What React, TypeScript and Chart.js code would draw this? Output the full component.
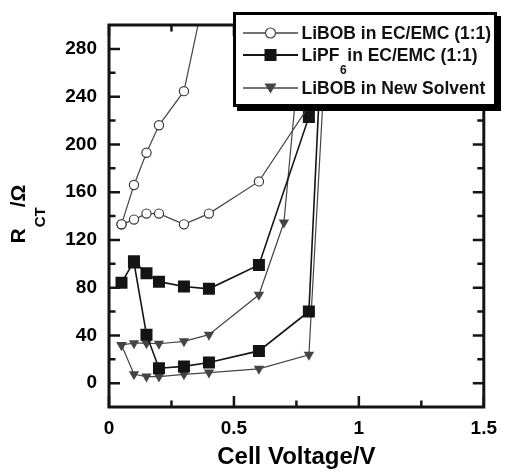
import { useEffect, useRef } from 'react';
import { Chart, registerables } from 'chart.js';

Chart.register(...registerables);

// ---- data (cell voltage / V, charge-transfer resistance / Ω) ----
const libobEcV = [0.05, 0.1, 0.15, 0.2, 0.3, 0.4, 0.6, 0.8, 0.85, 0.4, 0.3, 0.2, 0.15, 0.1, 0.05];
const libobEcR = [133, 137, 142, 142, 133, 142, 169, 232, 420, 343, 244.6, 216, 193, 166, 133];

const lipf6V = [0.05, 0.1, 0.15, 0.2, 0.3, 0.4, 0.6, 0.8, 0.85, 0.8, 0.6, 0.4, 0.3, 0.2, 0.15, 0.1];
const lipf6R = [84, 102, 92, 85, 81, 79, 99, 223, 280, 60, 27, 17.3, 14, 12.5, 40.6, 101];

const libobNsV = [0.05, 0.1, 0.15, 0.2, 0.3, 0.4, 0.6, 0.7, 0.8, 0.88, 0.8, 0.6, 0.4, 0.3, 0.2, 0.15, 0.1, 0.05];
const libobNsR = [32, 33.5, 33.5, 33, 35, 40.6, 74, 134.5, 360, 327, 23.7, 12, 8.8, 7.4, 5.5, 5.5, 7.4, 32];

const xTicks = [0, 0.5, 1, 1.5];
const xMinorTicks = [0.25, 0.75, 1.25];
const yTicks = [0, 40, 80, 120, 160, 200, 240, 280];
const yMinorTicks = [20, 60, 100, 140, 180, 220, 260];

const FONT = '"Liberation Sans", Arial, Helvetica, sans-serif';
const GREY = '#444444';
const BLACK = '#141414';

const toXY = (xs: number[], ys: number[]) => xs.map((x, i) => ({ x, y: ys[i] }));

const framePlugin = {
  id: 'frameTicks',
  afterDatasetsDraw(chart: any) {
    const { ctx, chartArea, scales } = chart;
    const { left, right, top, bottom } = chartArea;
    const x = scales.x;
    const y = scales.y;
    ctx.save();
    ctx.strokeStyle = BLACK;
    ctx.lineWidth = 2.5;
    const major = 11;
    const minor = 6.5;
    const vt = (v: number, len: number) => {
      const px = x.getPixelForValue(v);
      ctx.beginPath();
      ctx.moveTo(px, bottom);
      ctx.lineTo(px, bottom - len);
      ctx.moveTo(px, top);
      ctx.lineTo(px, top + len);
      ctx.stroke();
    };
    const ht = (v: number, len: number) => {
      const py = y.getPixelForValue(v);
      ctx.beginPath();
      ctx.moveTo(left, py);
      ctx.lineTo(left + len, py);
      ctx.moveTo(right, py);
      ctx.lineTo(right - len, py);
      ctx.stroke();
    };
    xTicks.forEach((v) => vt(v, major));
    xMinorTicks.forEach((v) => vt(v, minor));
    yTicks.forEach((v) => ht(v, major));
    yMinorTicks.forEach((v) => ht(v, minor));
    ctx.lineWidth = 3;
    ctx.strokeRect(left, top, right - left, bottom - top);
    ctx.restore();
  },
};

const overlayPlugin = {
  id: 'overlay',
  afterDraw(chart: any) {
    const { ctx, chartArea } = chart;
    ctx.save();

    // ---- y-axis title: R_CT /Ω (rotated) ----
    const cy = (chartArea.top + chartArea.bottom) / 2 - 2;
    ctx.translate(25, cy);
    ctx.rotate(-Math.PI / 2);
    ctx.fillStyle = '#000';
    ctx.textBaseline = 'alphabetic';
    ctx.textAlign = 'left';
    ctx.font = `bold 21px ${FONT}`;
    const rW = ctx.measureText('R').width;
    ctx.font = `bold 15px ${FONT}`;
    const ctW = ctx.measureText('CT').width;
    ctx.font = `bold 21px ${FONT}`;
    const omW = ctx.measureText('/Ω').width;
    const total = rW + 1 + ctW + 0 + omW;
    let u = -total / 2;
    ctx.fillText('R', u, 0);
    u += rW + 1;
    ctx.font = `bold 15px ${FONT}`;
    ctx.fillText('CT', u, 20);
    u += ctW;
    ctx.font = `bold 21px ${FONT}`;
    ctx.fillText('/Ω', u, 0);
    ctx.setTransform(1, 0, 0, 1, 0, 0);
    ctx.restore();

    // ---- legend box ----
    ctx.save();
    const L = 233, T = 12, W = 264, H = 95;
    ctx.fillStyle = '#000';
    ctx.fillRect(L + 4, T + 4, W, H);
    ctx.fillStyle = '#fff';
    ctx.fillRect(L, T, W, H);
    ctx.strokeStyle = '#000';
    ctx.lineWidth = 3;
    ctx.strokeRect(L + 1.5, T + 1.5, W - 3, H - 3);

    const lx1 = 243, lx2 = 298, mx = 270.5, tx = 301.5;
    const rows = [33, 55, 88];
    ctx.font = `bold 17.5px ${FONT}`;
    ctx.textBaseline = 'middle';
    ctx.textAlign = 'left';

    // row 1
    ctx.strokeStyle = GREY;
    ctx.lineWidth = 1.3;
    ctx.beginPath();
    ctx.moveTo(lx1, rows[0]);
    ctx.lineTo(lx2, rows[0]);
    ctx.stroke();
    ctx.beginPath();
    ctx.arc(mx, rows[0], 5, 0, Math.PI * 2);
    ctx.fillStyle = '#fff';
    ctx.fill();
    ctx.lineWidth = 1.2;
    ctx.stroke();
    ctx.fillStyle = '#111';
    ctx.fillText('LiBOB in EC/EMC (1:1)', tx, rows[0] + 1);

    // row 2
    ctx.strokeStyle = BLACK;
    ctx.lineWidth = 2;
    ctx.beginPath();
    ctx.moveTo(lx1, rows[1]);
    ctx.lineTo(lx2, rows[1]);
    ctx.stroke();
    ctx.fillStyle = BLACK;
    ctx.fillRect(mx - 6, rows[1] - 6, 12, 12);
    ctx.fillStyle = '#111';
    ctx.fillText('LiPF', tx, rows[1] + 1);
    const lipfW = ctx.measureText('LiPF').width;
    ctx.font = `bold 12px ${FONT}`;
    ctx.fillText('6', tx + lipfW + 0.5, rows[1] + 16);
    ctx.font = `bold 17.5px ${FONT}`;
    ctx.fillText(' in EC/EMC (1:1)', tx + lipfW + 3, rows[1] + 1);

    // row 3
    ctx.strokeStyle = GREY;
    ctx.lineWidth = 1.3;
    ctx.beginPath();
    ctx.moveTo(lx1, rows[2]);
    ctx.lineTo(lx2, rows[2]);
    ctx.stroke();
    ctx.fillStyle = GREY;
    ctx.beginPath();
    ctx.moveTo(mx - 6, rows[2] - 4.5);
    ctx.lineTo(mx + 6, rows[2] - 4.5);
    ctx.lineTo(mx, rows[2] + 5.5);
    ctx.closePath();
    ctx.fill();
    ctx.fillStyle = '#111';
    ctx.fillText('LiBOB in New Solvent', tx, rows[2] + 1);

    ctx.restore();
  },
};

export default function App() {
  const ref = useRef<HTMLCanvasElement>(null);

  useEffect(() => {
    document.body.style.margin = '0';
    const canvas = ref.current;
    if (!canvas) return;
    const chart = new Chart(canvas, {
      type: 'line',
      data: {
        datasets: [
          {
            label: 'LiBOB in EC/EMC (1:1)',
            data: toXY(libobEcV, libobEcR),
            borderColor: GREY,
            borderWidth: 1.2,
            pointStyle: 'circle',
            pointRadius: 4.6,
            pointBorderWidth: 1.2,
            pointBackgroundColor: '#ffffff',
            pointBorderColor: '#3a3a3a',
            tension: 0,
            fill: false,
          },
          {
            label: 'LiPF6 in EC/EMC (1:1)',
            data: toXY(lipf6V, lipf6R),
            borderColor: BLACK,
            borderWidth: 1.6,
            pointStyle: 'rect',
            pointRadius: 8.5,
            pointBorderWidth: 0,
            pointBackgroundColor: BLACK,
            pointBorderColor: BLACK,
            tension: 0,
            fill: false,
          },
          {
            label: 'LiBOB in New Solvent',
            data: toXY(libobNsV, libobNsR),
            borderColor: GREY,
            borderWidth: 1.2,
            pointStyle: 'triangle',
            pointRotation: 180,
            pointRadius: 6,
            pointBorderWidth: 0,
            pointBackgroundColor: GREY,
            pointBorderColor: GREY,
            tension: 0,
            fill: false,
          },
        ],
      },
      options: {
        responsive: false,
        animation: false,
        parsing: false as any,
        layout: { padding: { top: 25, right: 15, left: 0, bottom: 0 } },
        plugins: {
          legend: { display: false },
          tooltip: { enabled: false },
        },
        scales: {
          x: {
            type: 'linear',
            min: 0,
            max: 1.5,
            afterBuildTicks: (axis: any) => {
              axis.ticks = xTicks.map((value) => ({ value }));
            },
            afterFit: (axis: any) => {
              axis.height = 66;
            },
            grid: { display: false, drawTicks: false },
            border: { display: false },
            ticks: {
              autoSkip: false,
              maxRotation: 0,
              padding: 10,
              color: '#000',
              font: { family: FONT, size: 19, weight: 'bold' },
              callback: (v: any) => String(v),
            },
            title: {
              display: true,
              text: 'Cell Voltage/V',
              color: '#000',
              font: { family: FONT, size: 24, weight: 'bold' },
              padding: { top: 0, bottom: 1 },
            },
          },
          y: {
            type: 'linear',
            min: -20,
            max: 300,
            afterBuildTicks: (axis: any) => {
              axis.ticks = yTicks.map((value) => ({ value }));
            },
            afterFit: (axis: any) => {
              axis.width = 109;
            },
            grid: { display: false, drawTicks: false },
            border: { display: false },
            ticks: {
              autoSkip: false,
              padding: 12,
              color: '#000',
              font: { family: FONT, size: 19, weight: 'bold' },
              callback: (v: any) => String(v),
            },
          },
        },
      },
      plugins: [framePlugin, overlayPlugin],
    } as any);
    return () => chart.destroy();
  }, []);

  return (
    <div style={{ width: 507, height: 473 }}>
      <canvas ref={ref} width={507} height={473} style={{ display: 'block' }} />
    </div>
  );
}
